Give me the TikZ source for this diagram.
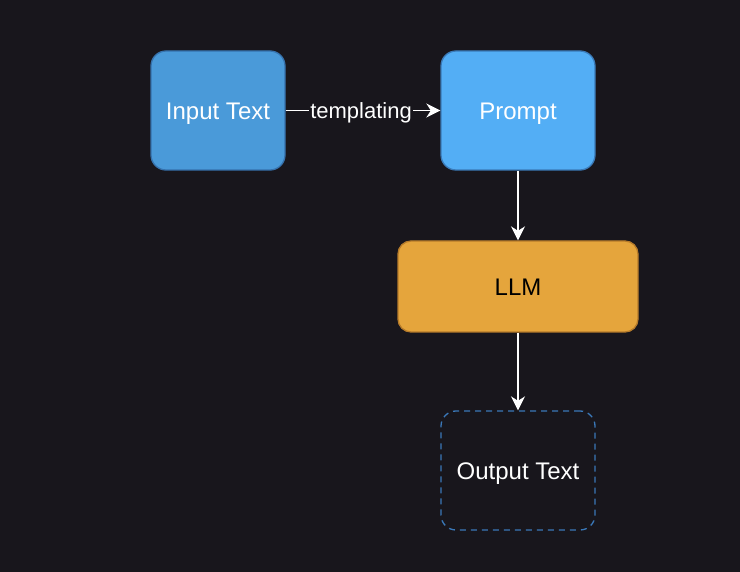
\documentclass[tikz,border=0pt]{standalone}
\usepackage{fontspec}
\setmainfont{Liberation Sans}
\usetikzlibrary{arrows.meta}
\definecolor{bg}{HTML}{18161C}
\definecolor{inFill}{HTML}{4A9AD9}
\definecolor{inDraw}{HTML}{3672AD}
\definecolor{prFill}{HTML}{53AEF5}
\definecolor{prDraw}{HTML}{3A7AB8}
\definecolor{llmFill}{HTML}{E5A53C}
\definecolor{llmDraw}{HTML}{B67B2A}
\definecolor{outDraw}{HTML}{3A78B8}
\begin{document}
\begin{tikzpicture}[x=1pt,y=-1pt,
  txt/.style={font=\fontsize{24}{28}\selectfont, text height=17.2pt, text depth=0pt},
  lbl/.style={font=\fontsize{22}{26}\selectfont, text height=15.8pt, text depth=0pt},
  box/.style={rounded corners=15pt, line width=1.3pt, inner sep=0pt, txt},
  conn/.style={draw=white, line width=1.6pt, -{Stealth[length=14pt,width=14pt,inset=4.5pt]}}]
\fill[bg] (0,0) rectangle (740,572);
\useasboundingbox (0,0) rectangle (740,572);
\node[box, fill=inFill, draw=inDraw, text=white, minimum width=134pt, minimum height=119pt] (in) at (218,110.5) {Input Text};
\node[box, fill=prFill, draw=prDraw, text=white, minimum width=154pt, minimum height=119pt] (pr) at (518,110.5) {Prompt};
\node[box, rounded corners=13pt, fill=llmFill, draw=llmDraw, text=black, minimum width=240pt, minimum height=91pt] (llm) at (518,286.5) {LLM};
\node[box, draw=outDraw, dash pattern=on 6pt off 5pt, text=white, minimum width=154pt, minimum height=119pt] (out) at (518,470.5) {Output Text};
\draw[conn] (in) -- node[fill=bg, text=white, inner xsep=1pt, inner ysep=3pt, lbl, xshift=-2pt] {templating} (pr);
\draw[conn] (pr) -- (llm);
\draw[conn] (llm) -- (out);
\end{tikzpicture}
\end{document}
